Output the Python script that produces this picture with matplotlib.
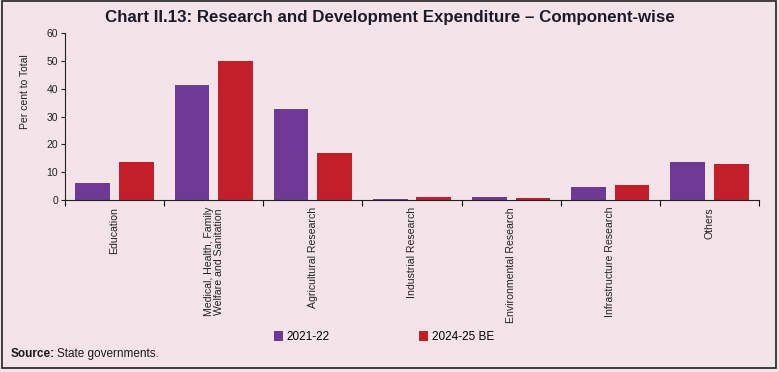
import matplotlib
matplotlib.use("Agg")
import matplotlib.pyplot as plt
import numpy as np
from matplotlib.patches import Rectangle
from matplotlib import font_manager

categories = ["Education", "Medical, Health, Family\nWelfare and Sanitation", "Agricultural Research",
              "Industrial Research", "Environmental Research", "Infrastructure Research", "Others"]
s2021 = [6.1, 41.5, 32.8, 0.25, 1.2, 4.6, 13.8]
s2024 = [13.6, 49.9, 16.8, 1.0, 0.7, 5.4, 13.0]
series_names = ["2021-22", "2024-25 BE"]
yticks = [0, 10, 20, 30, 40, 50, 60]

BG = "#F4E4EA"
PURPLE = "#6E3A96"
RED = "#C21F2B"

names = {f.name for f in font_manager.fontManager.ttflist}
narrow = "Liberation Sans Narrow" if "Liberation Sans Narrow" in names else "Liberation Sans"
plt.rcParams['font.family'] = ['Liberation Sans', 'DejaVu Sans']

fig = plt.figure(figsize=(7.79, 3.72), dpi=100, facecolor=BG)
ax = fig.add_axes([0.0834, 0.4624, 0.8909, 0.4481])
ax.set_facecolor(BG)

x = np.arange(len(categories))
w = 0.35
off = 0.22
ax.bar(x - off, s2021, width=w, color=PURPLE, label=series_names[0])
ax.bar(x + off, s2024, width=w, color=RED, label=series_names[1])

ax.set_xlim(-0.5, len(categories) - 0.5)
ax.set_ylim(0, 60)
ax.set_yticks(yticks)
ax.tick_params(axis='y', labelsize=7.5, length=3, width=0.8, colors='#222222', pad=2)
ax.set_xticks(x)
ax.set_xticklabels(categories, rotation=90, fontsize=7.6, va='top', ha='center', linespacing=1.0)
ax.tick_params(axis='x', which='major', length=0, pad=5, colors='#222222')
ax.set_xticks(np.arange(-0.5, len(categories), 1.0), minor=True)
ax.tick_params(axis='x', which='minor', length=4, width=0.8, direction='out')
for sp in ['top', 'right']:
    ax.spines[sp].set_visible(False)
for sp in ['left', 'bottom']:
    ax.spines[sp].set_linewidth(0.8)
    ax.spines[sp].set_color('#222222')

ax.set_ylabel("Per cent to Total", fontsize=7.5, color='#222222')
ax.yaxis.set_label_coords(-0.051, 0.648)

fig.text(0.5, 0.953, "Chart II.13: Research and Development Expenditure \u2013 Component-wise",
         ha='center', va='center', fontsize=12.2, fontweight='bold', color='#1a1a2a')

leg = fig.legend(loc='center', bbox_to_anchor=(0.493, 0.094), ncol=2, frameon=False,
                 handlelength=0.75, handleheight=0.95, handletextpad=0.3,
                 columnspacing=7.6, prop={'family': narrow, 'size': 8.5})

fig.text(0.013, 0.048, "Source:", ha='left', va='center', fontsize=8.5, fontweight='bold',
         family=narrow, color='#1a1a1a')
fig.text(0.073, 0.048, "State governments.", ha='left', va='center', fontsize=8.5,
         family=narrow, color='#1a1a1a')

fig.patches.append(Rectangle((0.003, 0.011), 0.993, 0.985, transform=fig.transFigure,
                             fill=False, edgecolor='#222222', linewidth=1.2))

fig.savefig("out.png", dpi=100, facecolor=BG)
